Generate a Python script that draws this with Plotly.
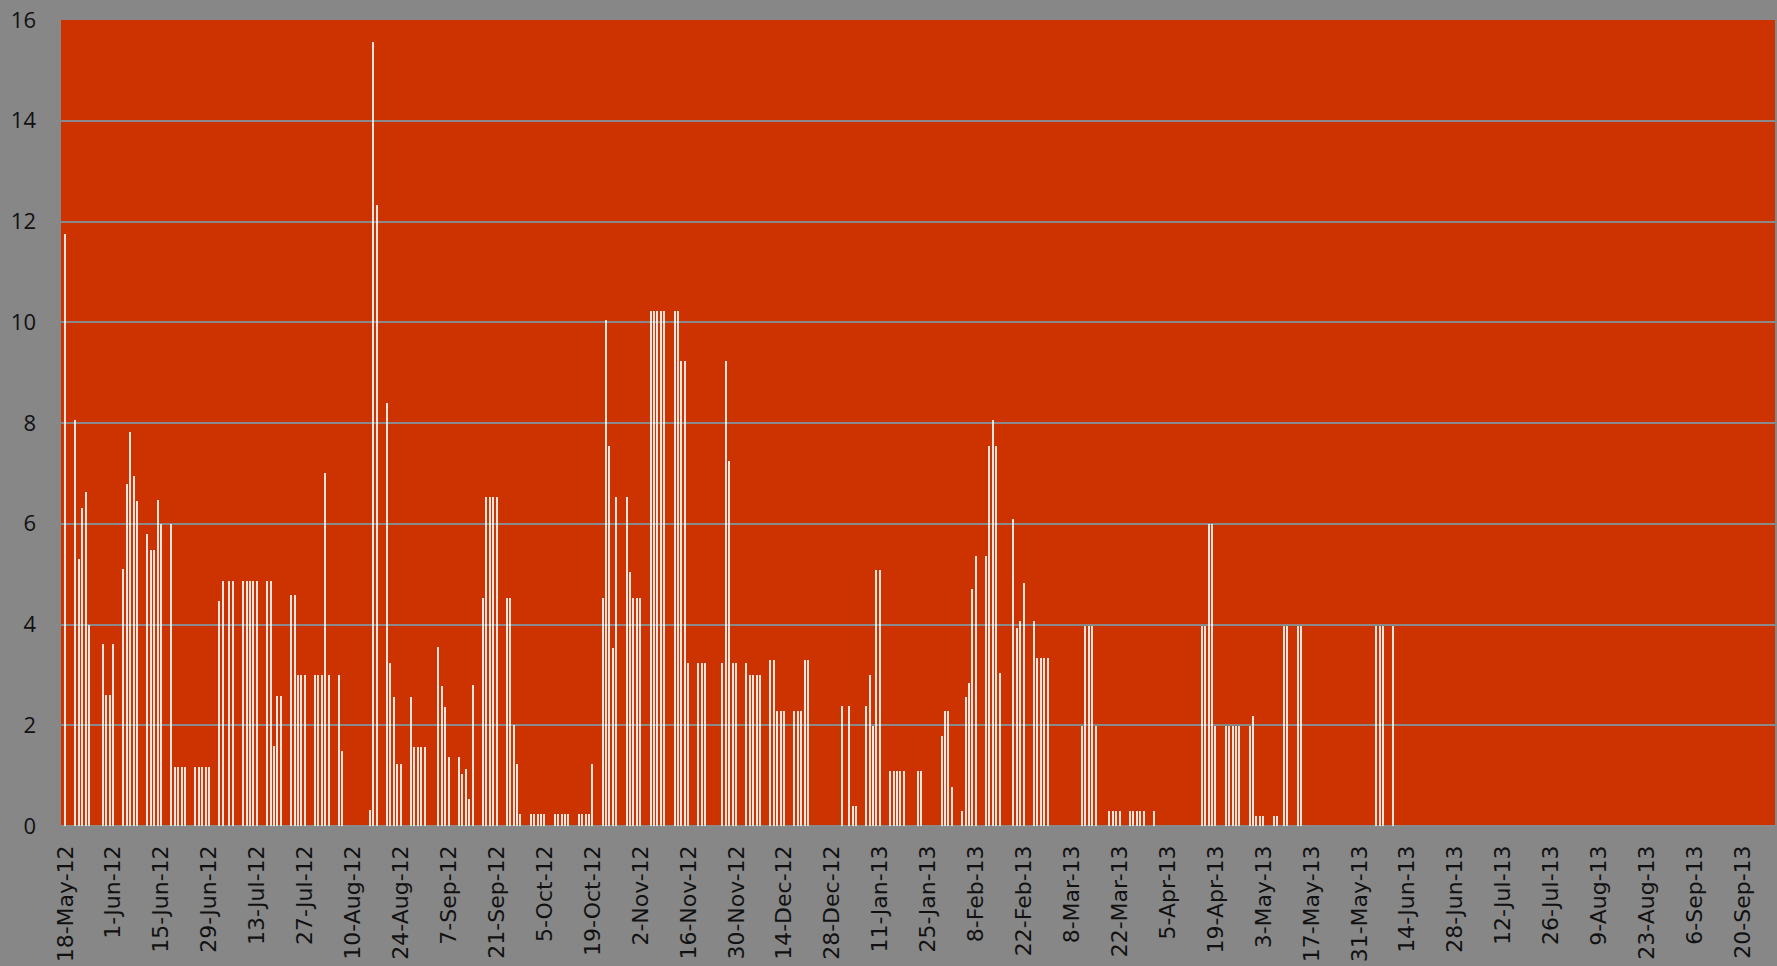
import plotly.graph_objects as go
import pandas as pd

# ---- data ----
dates = [
    "2012-05-18", "2012-05-21", "2012-05-22", "2012-05-23", "2012-05-24", "2012-05-25",
    "2012-05-29", "2012-05-30", "2012-05-31", "2012-06-01",
    "2012-06-04", "2012-06-05", "2012-06-06", "2012-06-07", "2012-06-08",
    "2012-06-11", "2012-06-12", "2012-06-13", "2012-06-14", "2012-06-15",
    "2012-06-18", "2012-06-19", "2012-06-20", "2012-06-21", "2012-06-22",
    "2012-06-25", "2012-06-26", "2012-06-27", "2012-06-28", "2012-06-29",
    "2012-07-02", "2012-07-03", "2012-07-05", "2012-07-06",
    "2012-07-09", "2012-07-10", "2012-07-11", "2012-07-12", "2012-07-13",
    "2012-07-16", "2012-07-17", "2012-07-18", "2012-07-19", "2012-07-20",
    "2012-07-23", "2012-07-24", "2012-07-25", "2012-07-26", "2012-07-27",
    "2012-07-30", "2012-07-31", "2012-08-01", "2012-08-02", "2012-08-03",
    "2012-08-06", "2012-08-07",
    "2012-08-15", "2012-08-16", "2012-08-17",
    "2012-08-20", "2012-08-21", "2012-08-22", "2012-08-23", "2012-08-24",
    "2012-08-27", "2012-08-28", "2012-08-29", "2012-08-30", "2012-08-31",
    "2012-09-04", "2012-09-05", "2012-09-06", "2012-09-07",
    "2012-09-10", "2012-09-11", "2012-09-12", "2012-09-13", "2012-09-14",
    "2012-09-17", "2012-09-18", "2012-09-19", "2012-09-20", "2012-09-21",
    "2012-09-24", "2012-09-25", "2012-09-26", "2012-09-27", "2012-09-28",
    "2012-10-01", "2012-10-02", "2012-10-03", "2012-10-04", "2012-10-05",
    "2012-10-08", "2012-10-09", "2012-10-10", "2012-10-11", "2012-10-12",
    "2012-10-15", "2012-10-16", "2012-10-17", "2012-10-18", "2012-10-19",
    "2012-10-22", "2012-10-23", "2012-10-24", "2012-10-25", "2012-10-26",
    "2012-10-29", "2012-10-30", "2012-10-31", "2012-11-01", "2012-11-02",
    "2012-11-05", "2012-11-06", "2012-11-07", "2012-11-08", "2012-11-09",
    "2012-11-12", "2012-11-13", "2012-11-14", "2012-11-15", "2012-11-16",
    "2012-11-19", "2012-11-20", "2012-11-21",
    "2012-11-26", "2012-11-27", "2012-11-28", "2012-11-29", "2012-11-30",
    "2012-12-03", "2012-12-04", "2012-12-05", "2012-12-06", "2012-12-07",
    "2012-12-10", "2012-12-11", "2012-12-12", "2012-12-13", "2012-12-14",
    "2012-12-17", "2012-12-18", "2012-12-19", "2012-12-20", "2012-12-21",
    "2012-12-31", "2013-01-02", "2013-01-03", "2013-01-04",
    "2013-01-07", "2013-01-08", "2013-01-09", "2013-01-10", "2013-01-11",
    "2013-01-14", "2013-01-15", "2013-01-16", "2013-01-17", "2013-01-18",
    "2013-01-22", "2013-01-23",
    "2013-01-29", "2013-01-30", "2013-01-31", "2013-02-01",
    "2013-02-04", "2013-02-05", "2013-02-06", "2013-02-07", "2013-02-08",
    "2013-02-11", "2013-02-12", "2013-02-13", "2013-02-14", "2013-02-15",
    "2013-02-19", "2013-02-20", "2013-02-21", "2013-02-22",
    "2013-02-25", "2013-02-26", "2013-02-27", "2013-02-28", "2013-03-01",
    "2013-03-11", "2013-03-12", "2013-03-13", "2013-03-14", "2013-03-15",
    "2013-03-19", "2013-03-20", "2013-03-21", "2013-03-22",
    "2013-03-25", "2013-03-26", "2013-03-27", "2013-03-28", "2013-03-29",
    "2013-04-01",
    "2013-04-15", "2013-04-16", "2013-04-17", "2013-04-18", "2013-04-19",
    "2013-04-22", "2013-04-23", "2013-04-24", "2013-04-25", "2013-04-26",
    "2013-04-29", "2013-04-30", "2013-05-01", "2013-05-02", "2013-05-03",
    "2013-05-06", "2013-05-07", "2013-05-09", "2013-05-10",
    "2013-05-13", "2013-05-14",
    "2013-06-05", "2013-06-06", "2013-06-07", "2013-06-10",
]

values = [
    11.75, 8.06, 5.31, 6.31, 6.64, 4.0,
    3.61, 2.60, 2.60, 3.61,
    5.11, 6.78, 7.83, 6.95, 6.45,
    5.79, 5.48, 5.48, 6.48, 6.0,
    6.0, 1.18, 1.18, 1.18, 1.18,
    1.18, 1.18, 1.18, 1.18, 1.18,
    4.46, 4.86, 4.86, 4.86,
    4.86, 4.86, 4.86, 4.86, 4.86,
    4.86, 4.86, 1.59, 2.59, 2.59,
    4.59, 4.59, 3.0, 3.0, 3.0,
    3.0, 3.0, 3.0, 7.0, 3.0,
    3.0, 1.48,
    0.31, 15.57, 12.33,
    8.40, 3.24, 2.57, 1.23, 1.23,
    2.56, 1.56, 1.56, 1.56, 1.56,
    3.56, 2.77, 2.37, 1.36,
    1.36, 1.03, 1.13, 0.53, 2.79,
    4.53, 6.54, 6.54, 6.54, 6.54,
    4.53, 4.53, 2.0, 1.23, 0.23,
    0.23, 0.23, 0.23, 0.23, 0.23,
    0.23, 0.23, 0.23, 0.23, 0.23,
    0.23, 0.23, 0.23, 0.23, 1.23,
    4.53, 10.05, 7.55, 3.54, 6.54,
    6.54, 5.04, 4.53, 4.53, 4.53,
    10.23, 10.23, 10.23, 10.23, 10.23,
    10.23, 10.23, 9.24, 9.24, 3.24,
    3.24, 3.24, 3.24,
    3.24, 9.24, 7.24, 3.24, 3.24,
    3.24, 2.99, 2.99, 2.99, 2.99,
    3.29, 3.29, 2.29, 2.29, 2.29,
    2.29, 2.29, 2.29, 3.29, 3.29,
    2.39, 2.39, 0.39, 0.39,
    2.39, 2.99, 1.99, 5.09, 5.09,
    1.09, 1.09, 1.09, 1.09, 1.09,
    1.09, 1.09,
    1.78, 2.29, 2.29, 0.78,
    0.29, 2.57, 2.84, 4.71, 5.35,
    5.35, 7.55, 8.05, 7.55, 3.04,
    6.10, 3.94, 4.06, 4.82,
    4.06, 3.33, 3.33, 3.33, 3.33,
    1.99, 3.98, 3.98, 3.98, 1.99,
    0.29, 0.29, 0.29, 0.29,
    0.29, 0.29, 0.29, 0.29, 0.29,
    0.29,
    3.98, 3.98, 6.0, 6.0, 1.99,
    1.99, 1.99, 1.99, 1.99, 1.99,
    1.99, 2.19, 0.19, 0.19, 0.19,
    0.19, 0.19, 3.98, 3.98,
    3.98, 3.98,
    3.98, 3.98, 3.98, 3.98,
]

tick_labels = [
    "18-May-12", "1-Jun-12", "15-Jun-12", "29-Jun-12", "13-Jul-12", "27-Jul-12",
    "10-Aug-12", "24-Aug-12", "7-Sep-12", "21-Sep-12", "5-Oct-12", "19-Oct-12",
    "2-Nov-12", "16-Nov-12", "30-Nov-12", "14-Dec-12", "28-Dec-12", "11-Jan-13",
    "25-Jan-13", "8-Feb-13", "22-Feb-13", "8-Mar-13", "22-Mar-13", "5-Apr-13",
    "19-Apr-13", "3-May-13", "17-May-13", "31-May-13", "14-Jun-13", "28-Jun-13",
    "12-Jul-13", "26-Jul-13", "9-Aug-13", "23-Aug-13", "6-Sep-13", "20-Sep-13",
]
tick_dates = [pd.to_datetime(t, format="%d-%b-%y") for t in tick_labels]

y_ticks = [0, 2, 4, 6, 8, 10, 12, 14, 16]

# ---- figure ----
day_ms = 86400000
start = pd.Timestamp("2012-05-18")
x_range = [start - pd.Timedelta(hours=30.7), start + pd.Timedelta(days=499.4)]

fig = go.Figure(
    go.Bar(
        x=pd.to_datetime(dates),
        y=values,
        width=0.42 * day_ms,
        marker=dict(color="#F7E4DC", line=dict(width=0)),
        hoverinfo="x+y",
    )
)

fig.update_layout(
    width=1777,
    height=966,
    paper_bgcolor="#878787",
    plot_bgcolor="#CC3300",
    margin=dict(l=61, r=2, t=20, b=140, autoexpand=False),
    showlegend=False,
    bargap=0,
    font=dict(family="DejaVu Sans, sans-serif", color="#111111"),
)

fig.update_xaxes(
    type="date",
    range=x_range,
    tickmode="array",
    tickvals=tick_dates,
    ticktext=tick_labels,
    tickangle=-90,
    tickfont=dict(size=22, family="DejaVu Sans, sans-serif", color="#111111"),
    showgrid=False,
    showline=False,
    zeroline=False,
    ticks="",
    automargin=False,
    ticklabelstandoff=14,
)

fig.update_yaxes(
    range=[0, 16],
    tickmode="array",
    tickvals=y_ticks,
    tickfont=dict(size=22, family="Open Sans, sans-serif", color="#111111"),
    showgrid=True,
    gridcolor="#8A8A8A",
    gridwidth=1.5,
    zeroline=True,
    zerolinecolor="#8A8A8A",
    zerolinewidth=1.5,
    showline=False,
    ticks="",
    automargin=False,
    ticklabelstandoff=24,
)

fig.write_html(
    "out.html",
    config={"displayModeBar": False},
    post_script="document.body.style.margin='0';document.body.style.background='#878787';",
)
